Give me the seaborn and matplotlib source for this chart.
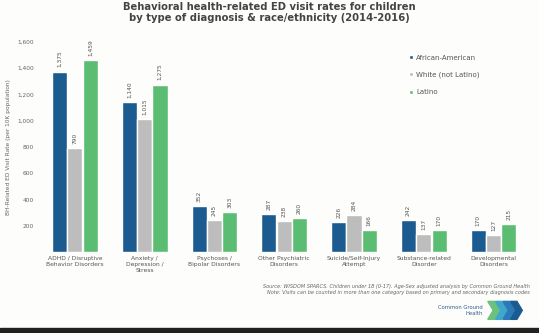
import matplotlib
matplotlib.use("Agg")
import matplotlib.pyplot as plt
import matplotlib.patches as mpatches
import seaborn as sns
import pandas as pd

categories = [
    "ADHD / Disruptive\nBehavior Disorders",
    "Anxiety /\nDepression /\nStress",
    "Psychoses /\nBipolar Disorders",
    "Other Psychiatric\nDisorders",
    "Suicide/Self-Injury\nAttempt",
    "Substance-related\nDisorder",
    "Developmental\nDisorders",
]
groups = ["African-American", "White (not Latino)", "Latino"]
african_american = [1375, 1140, 352, 287, 226, 242, 170]
white_not_latino = [790, 1015, 245, 238, 284, 137, 127]
latino = [1459, 1275, 303, 260, 166, 170, 215]
y_ticks = [200, 400, 600, 800, 1000, 1200, 1400, 1600]

palette = {"African-American": "#1b5b8f", "White (not Latino)": "#bdbdbd", "Latino": "#5bbd72"}

rows = []
for g, vals in zip(groups, [african_american, white_not_latino, latino]):
    for c, v in zip(categories, vals):
        rows.append({"category": c, "group": g, "rate": v})
df = pd.DataFrame(rows)

sns.set_theme(style="white")
plt.rcParams["font.family"] = ["DejaVu Sans"]

fig = plt.figure(figsize=(5.39, 3.33), dpi=100, facecolor="#fdfdfb")
ax = fig.add_axes([0.078, 0.243, 0.905, 0.631])
ax.set_facecolor("#fdfdfb")

sns.barplot(data=df, x="category", y="rate", hue="group", palette=palette,
            hue_order=groups, order=categories, width=0.66, gap=0.02,
            saturation=1, ax=ax, legend=True)

for cont in ax.containers:
    ax.bar_label(cont, labels=[f"{int(v):,}" for v in cont.datavalues],
                 rotation=90, fontsize=4.2, color="#555555", padding=3)

ax.set_ylim(0, 1600)
ax.set_xlim(-0.47, 6.52)
ax.set_yticks(y_ticks)
ax.set_yticklabels([f"{t:,}" for t in y_ticks], fontsize=4.2, color="#666666")
ax.tick_params(axis="x", labelsize=4.3, labelcolor="#555555", length=0, pad=3)
ax.tick_params(axis="y", length=0, pad=6)
ax.set_xlabel("")
ax.set_ylabel("BH-Related ED Visit Rate (per 10K population)", fontsize=4.2,
              color="#666666", labelpad=4)
for s in ax.spines.values():
    s.set_visible(False)

leg = ax.legend(loc="upper left", bbox_to_anchor=(0.74, 0.97), frameon=False,
                fontsize=5, handlelength=0.6, handleheight=0.6,
                labelspacing=1.6, handletextpad=0.4)
for t in leg.get_texts():
    t.set_color("#555555")

fig.text(0.5, 0.995, "Behavioral health-related ED visit rates for children\n"
         "by type of diagnosis & race/ethnicity (2014-2016)",
         ha="center", va="top", fontsize=7.2, fontweight="bold",
         color="#444444", linespacing=1.15)

fig.text(0.983, 0.148,
         "Source: WISDOM SPARCS. Children under 18 (0-17). Age-Sex adjusted analysis by Common Ground Health\n"
         "Note: Visits can be counted in more than one category based on primary and secondary diagnosis codes",
         ha="right", va="top", fontsize=3.6, style="italic", color="#666666",
         linespacing=1.3)

# footer brand mark
fig.text(0.895, 0.068, "Common Ground\nHealth", ha="right", va="center",
         fontsize=3.8, color="#2f5f8f", linespacing=1.1)
for i, col in enumerate(["#6cc17c", "#3fa7c9", "#2a7ab8", "#1b5b8f"]):
    x0 = 0.905 + i * 0.014
    poly = mpatches.Polygon([[x0, 0.095], [x0 + 0.012, 0.095], [x0 + 0.022, 0.068],
                             [x0 + 0.012, 0.041], [x0, 0.041], [x0 + 0.010, 0.068]],
                            closed=True, transform=fig.transFigure, color=col)
    fig.patches.append(poly)

fig.patches.append(mpatches.Rectangle((0, 0), 1, 0.016, transform=fig.transFigure,
                                      color="#222222"))

fig.savefig("out.png", dpi=100, facecolor=fig.get_facecolor())
